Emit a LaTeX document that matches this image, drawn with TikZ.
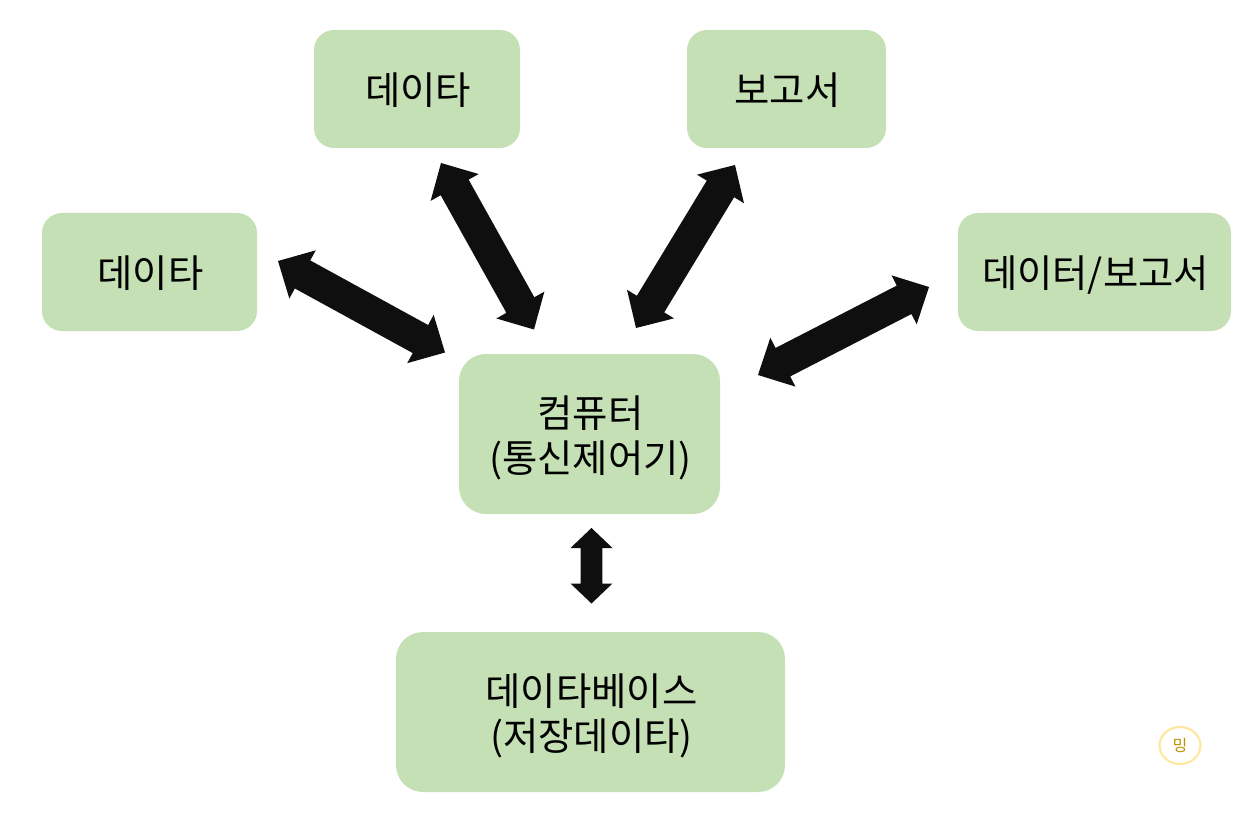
\documentclass[tikz,border=0pt]{standalone}
\usepackage{fontspec}
\setmainfont{Noto Sans CJK KR}
\usetikzlibrary{calc,shapes.geometric}
\definecolor{boxgreen}{HTML}{C5E0B4}
\definecolor{arrowblack}{HTML}{0F0F0F}
\definecolor{badgering}{HTML}{FFE699}
\definecolor{badgetext}{HTML}{BF9000}
\newcommand\lowered[1]{\raisebox{-16pt}[0pt][0pt]{\kern2pt #1}}
% #1,#2 end points; #3 half shaft width; #4 half head width; #5 head length
\newcommand\blockarrow[5]{%
  \coordinate (p) at ($(#1)!#5!(#2)$);
  \coordinate (q) at ($(#2)!#5!(#1)$);
  \fill[arrowfill] (#1) -- ($(p)!#4!90:(#1)$) -- ($(p)!#3!90:(#1)$)
    -- ($(q)!#3!-90:(#2)$) -- ($(q)!#4!-90:(#2)$) -- (#2)
    -- ($(q)!#4!90:(#2)$) -- ($(q)!#3!90:(#2)$)
    -- ($(p)!#3!-90:(#1)$) -- ($(p)!#4!-90:(#1)$) -- cycle;
}
\tikzset{
  box/.style={fill=boxgreen,draw=none,rounded corners=20pt,inner sep=0pt,align=center,font=\fontsize{38.4}{45}\selectfont,text=black},
  bigbox/.style={box,rounded corners=27pt},
  arrowfill/.style={fill=arrowblack,draw=none},
  badge/.style={ellipse,draw=badgering,line width=2pt,fill=white,minimum width=41pt,minimum height=37pt,inner sep=0pt,text=badgetext,font=\fontsize{16}{18}\selectfont}
}
\begin{document}
\begin{tikzpicture}[x=1pt,y=-1pt]
\useasboundingbox (0,0) rectangle (1253,813);
\node[box,minimum width=206pt,minimum height=118pt] (top1) at (417,89) {\lowered{데이타}};
\node[box,minimum width=199pt,minimum height=118pt] (top2) at (786.5,89) {\lowered{보고서}};
\node[box,minimum width=215pt,minimum height=118pt] (left) at (149.5,272) {\lowered{데이타}};
\node[box,minimum width=273pt,minimum height=118pt] (right) at (1094.5,272) {\lowered{데이터/보고서}};
\node[bigbox,minimum width=261pt,minimum height=160pt] (comp) at (589.5,434) {\lowered{컴퓨터}\\\lowered{(통신제어기)}};
\node[bigbox,minimum width=389pt,minimum height=160pt] (db) at (590.5,712) {\lowered{데이타베이스}\\\lowered{(저장데이타)}};
\node[badge] (ming) at (1180,745.5) {밍};
\coordinate (a1s) at (278,261); \coordinate (a1e) at (445,352.5);
\coordinate (a2s) at (441,163); \coordinate (a2e) at (534,329.5);
\coordinate (a3s) at (735,165); \coordinate (a3e) at (636,328);
\coordinate (a4s) at (929,287); \coordinate (a4e) at (758,375);
\coordinate (a5s) at (591.5,528); \coordinate (a5e) at (591.5,603.5);
\blockarrow{a1s}{a1e}{16pt}{27.5pt}{28pt}
\blockarrow{a2s}{a2e}{16pt}{27.5pt}{28pt}
\blockarrow{a3s}{a3e}{16pt}{27.5pt}{28pt}
\blockarrow{a4s}{a4e}{16pt}{27.5pt}{28pt}
\blockarrow{a5s}{a5e}{10.9pt}{21pt}{20pt}
\end{tikzpicture}
\end{document}
